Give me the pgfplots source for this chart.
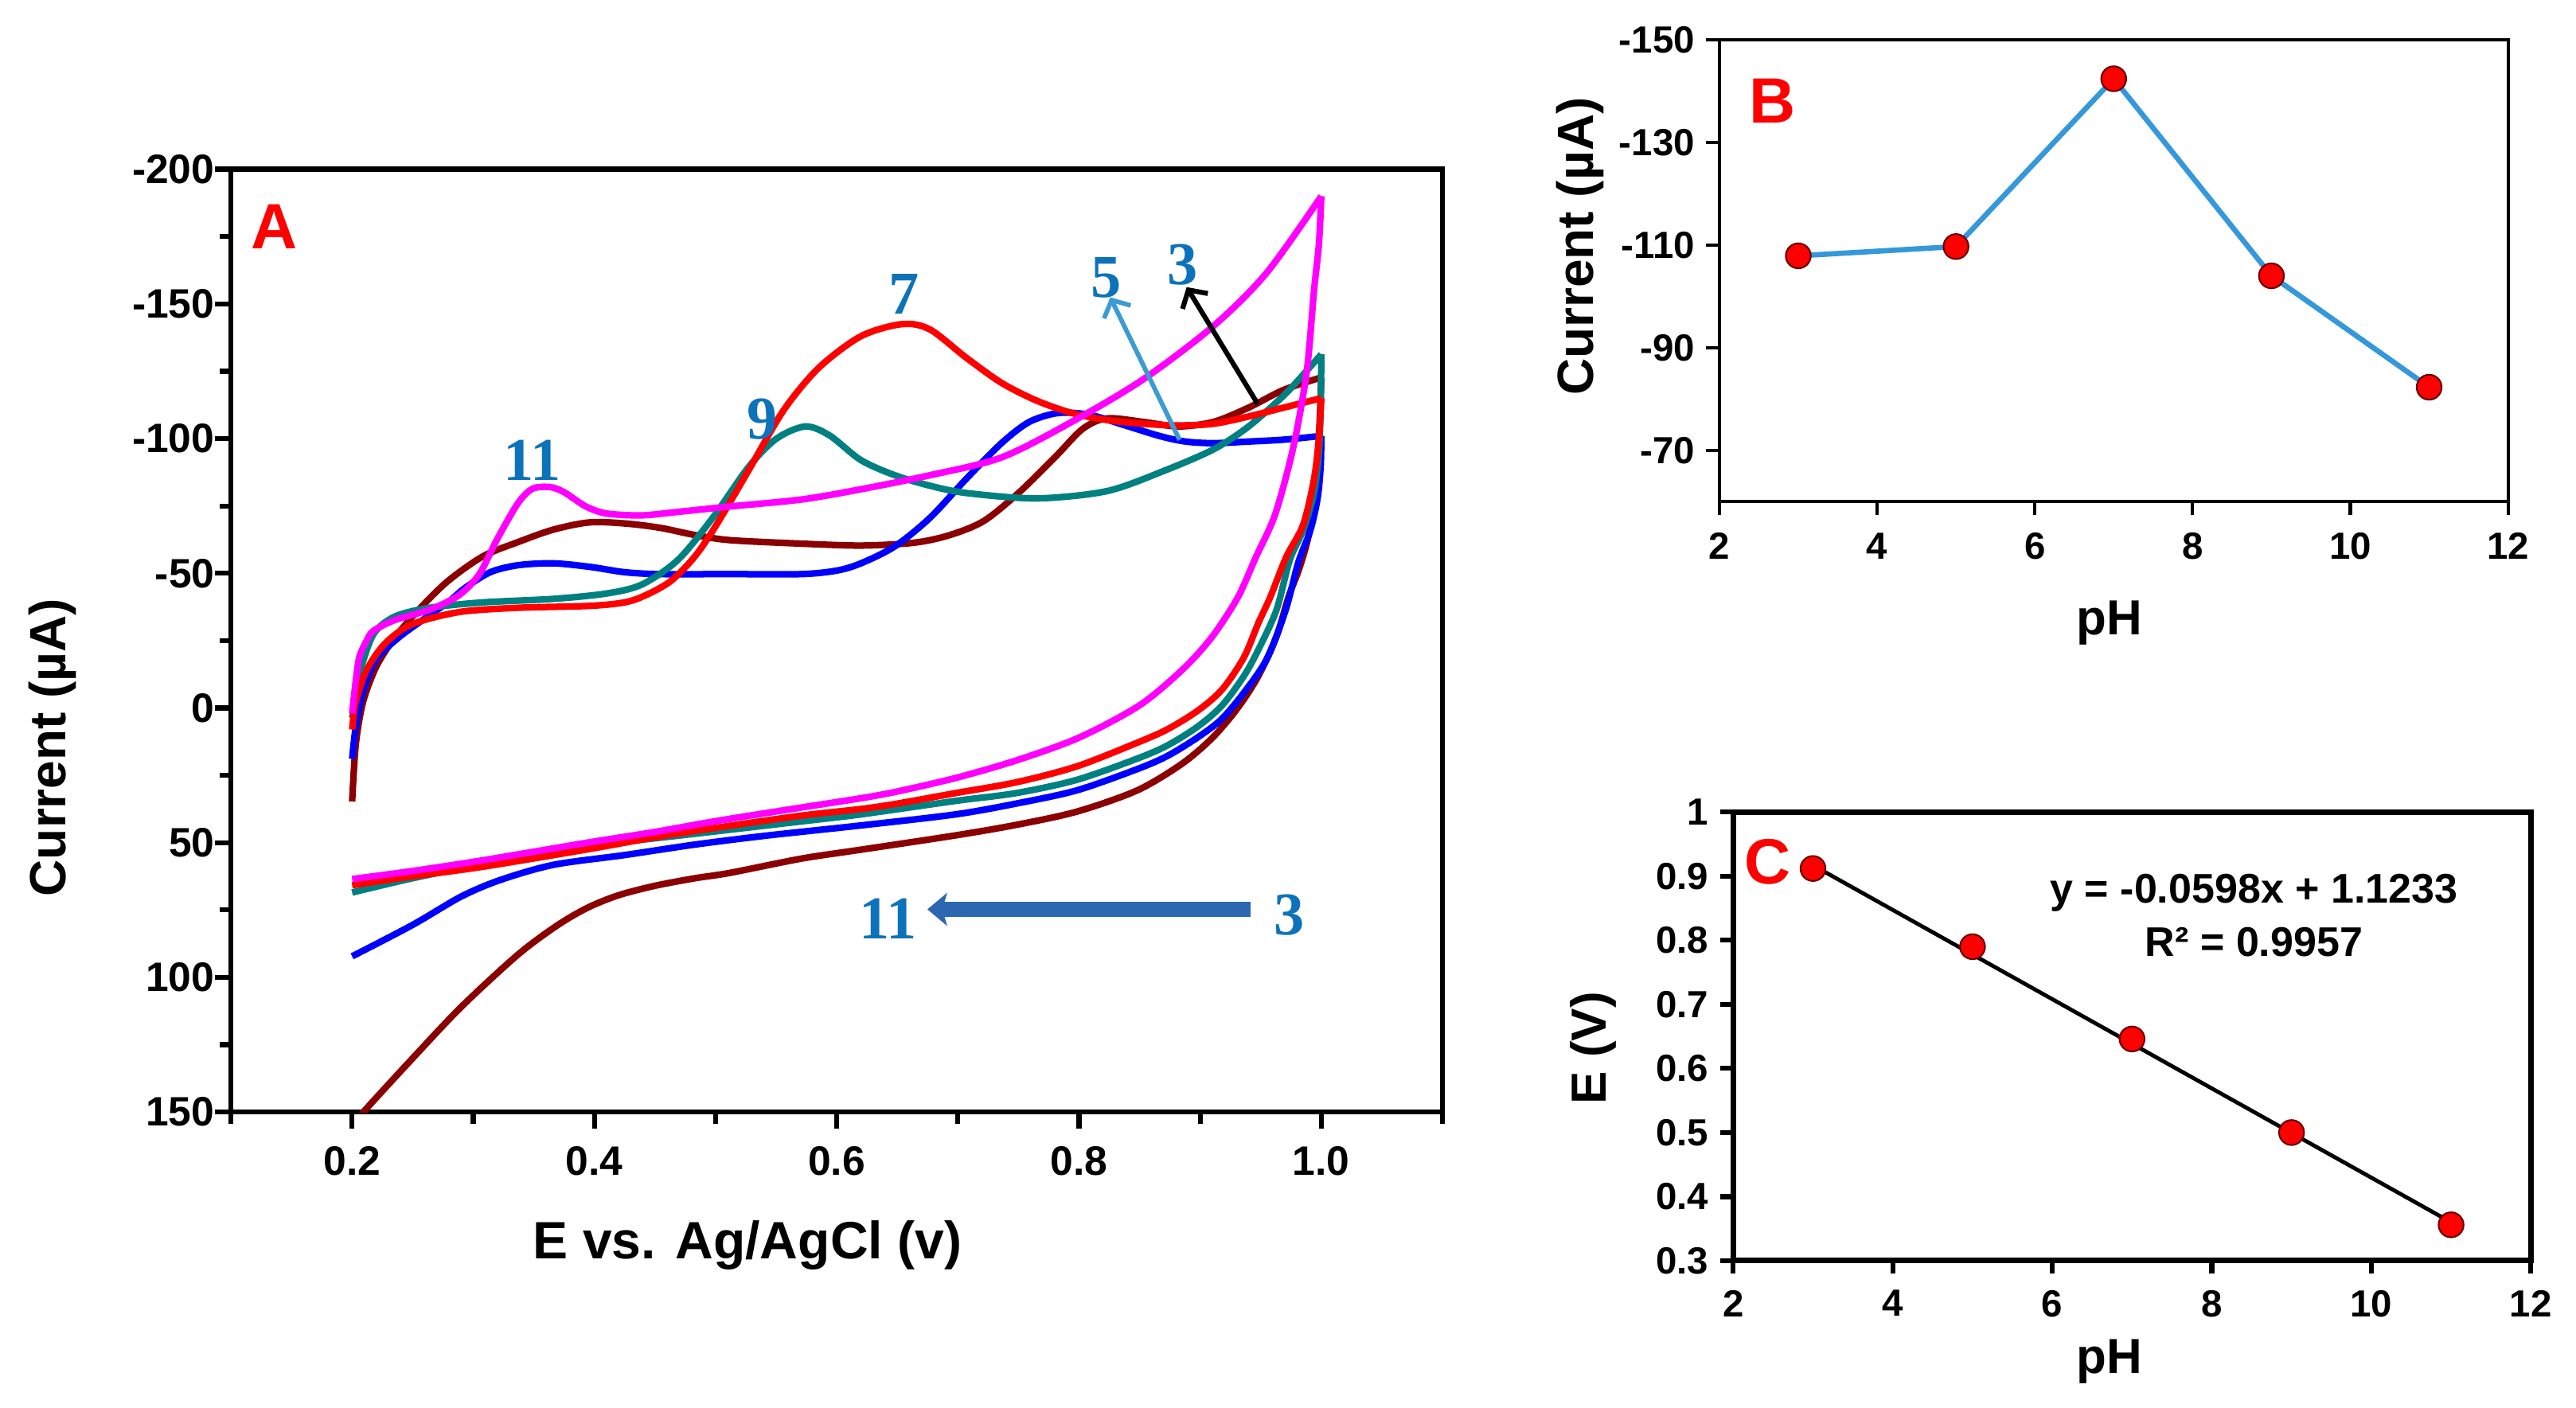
\documentclass[border=0pt]{standalone}
\usepackage{fontspec}
\setmainfont{Liberation Sans}
\newfontfamily\numserif{Liberation Serif}
\usepackage{pgfplots}
\pgfplotsset{compat=1.18}
\usetikzlibrary{arrows.meta}

\definecolor{phthree}{RGB}{139,0,0}
\definecolor{phfive}{RGB}{0,0,255}
\definecolor{phseven}{RGB}{255,0,0}
\definecolor{phnine}{RGB}{0,128,128}
\definecolor{pheleven}{RGB}{255,0,255}
\definecolor{annot}{RGB}{12,114,186}
\definecolor{arrowlight}{RGB}{60,155,210}
\definecolor{arrowbig}{RGB}{44,104,176}
\definecolor{trendblue}{RGB}{52,152,219}

\pgfplotsset{
  panel/.style={
    scale only axis, anchor=south west,
    axis line style={line width=1.5pt},
    tick style={line width=1.5pt, black},
    tick align=outside, xtick pos=left, ytick pos=left,
    clip=true,
  },
  cv/.style={line width=2pt, smooth, tension=0.5, line join=round},
}
\newcommand{\lbl}[1]{\bfseries\fontsize{#1}{#1}\selectfont}

\begin{document}
\begin{tikzpicture}
\useasboundingbox (0,0) rectangle (784pt,428.5pt);

% ---------------- (A) cyclic voltammograms at pH 3-11 ----------------
\begin{axis}[panel,
  at={(70.3pt,90pt)}, width=368.7pt, height=287pt,
  xmin=0.1, xmax=1.1, ymin=-200, ymax=150, y dir=reverse,
  xtick={0.2,0.4,0.6,0.8,1.0}, xticklabels={0.2,0.4,0.6,0.8,1.0},
  minor xtick={0.1,0.3,0.5,0.7,0.9,1.1},
  ytick={-200,-150,-100,-50,0,50,100,150},
  yticklabels={-200,-150,-100,-50,0,50,100,150},
  minor ytick={-175,-125,-75,-25,25,75,125},
  major tick length=5pt, minor tick length=3.5pt,
  tick label style={font=\lbl{12.5}},
  yticklabel style={xshift=3.5pt},
  xticklabel style={yshift=-2pt},
]
% pH 3
\addplot[cv, phthree] coordinates {
(0.200,34.7) (0.203,13.6) (0.209,-2.2) (0.220,-15.4) (0.235,-26) (0.255,-36.5)
(0.279,-47.1) (0.308,-56.3) (0.337,-61.6) (0.366,-66.2) (0.396,-68.9) (0.425,-68.5)
(0.454,-66.9) (0.483,-64.2) (0.512,-62.3) (0.571,-61.0) (0.620,-60.3) (0.663,-61.3)
(0.692,-64) (0.721,-69.3) (0.750,-79.8) (0.780,-93) (0.803,-103.6) (0.823,-107.5)
(0.853,-106.2) (0.882,-104.5) (0.911,-106.2) (0.940,-111.5) (0.969,-118.1) (1.000,-122.7)};
\addplot[cv, phthree] coordinates {
(1.000,-122.7) (0.9985,-105) (0.996,-85) (0.990,-65) (0.982,-52) (0.973,-41.3)
(0.963,-26.5) (0.948,-11.8) (0.931,0) (0.9105,10.9) (0.885,20.7) (0.848,30.6)
(0.798,38.5) (0.748,43.4) (0.698,47.3) (0.620,52.6) (0.571,55.9) (0.512,61.2)
(0.483,63.2) (0.450,66) (0.420,69.5) (0.395,74) (0.370,80.5) (0.337,91.5)
(0.290,111) (0.250,130) (0.2124,148.4) (0.205,152.5) (0.200,155.5)};
% pH 5
\addplot[cv, phfive] coordinates {
(0.200,18.9) (0.203,7) (0.209,-6.2) (0.220,-18.1) (0.238,-26) (0.258,-32.6)
(0.279,-39.2) (0.293,-44.5) (0.314,-50.4) (0.337,-53.0) (0.366,-53.7) (0.396,-52.4)
(0.425,-50.4) (0.454,-49.7) (0.512,-49.7) (0.571,-49.7) (0.600,-51.0) (0.620,-53.7)
(0.648,-60) (0.677,-70.6) (0.707,-85.1) (0.736,-98.3) (0.759,-106.2) (0.783,-109.5)
(0.809,-108.8) (0.838,-104.9) (0.867,-100.9) (0.888,-98.9) (0.911,-98.3) (0.940,-98.9)
(0.969,-99.6) (1.000,-101)};
\addplot[cv, phfive] coordinates {
(1.000,-101) (0.9995,-90) (0.997,-78) (0.991,-66) (0.981,-54) (0.9706,-36.4)
(0.9556,-18.7) (0.938,-6.8) (0.918,4) (0.898,10.9) (0.873,17.8) (0.848,22.7)
(0.798,30.6) (0.748,35.5) (0.698,39.5) (0.620,43.6) (0.5416,47.4) (0.483,50.7)
(0.4248,54.6) (0.3664,58.2) (0.3226,63.8) (0.290,70) (0.250,80.5) (0.200,92.2)};
% pH 9
\addplot[cv, phnine] coordinates {
(0.200,3.7) (0.203,-5) (0.206,-12.8) (0.2175,-27.3) (0.235,-33.9) (0.264,-37.2)
(0.308,-39.2) (0.366,-40.5) (0.410,-42.5) (0.439,-45.8) (0.469,-55.0) (0.498,-70.8)
(0.527,-89.3) (0.550,-99.9) (0.574,-104.5) (0.594,-101.2) (0.620,-92) (0.648,-86.4)
(0.677,-82.5) (0.707,-79.8) (0.765,-77.8) (0.823,-80.5) (0.870,-88) (0.911,-96)
(0.940,-104.5) (0.969,-116) (0.987,-124.7) (1.000,-131.3)};
\addplot[cv, phnine] coordinates {
(1.000,-131.3) (0.9995,-112) (0.998,-95) (0.994,-80) (0.985,-66) (0.974,-55)
(0.963,-36.4) (0.948,-21.6) (0.936,-11.8) (0.918,-0.9) (0.898,6.9) (0.873,13.9)
(0.848,18.8) (0.798,26.7) (0.748,31.6) (0.698,34.5) (0.620,39.5) (0.571,42.1)
(0.483,46.7) (0.396,51.3) (0.308,57.9) (0.250,63.2) (0.200,68.5)};
% pH 7
\addplot[cv, phseven] coordinates {
(0.200,8) (0.203,-2.2) (0.212,-14.1) (0.226,-23.4) (0.244,-29.9) (0.264,-33.2)
(0.293,-35.9) (0.337,-37.2) (0.396,-37.9) (0.425,-39.2) (0.442,-41.8) (0.463,-47.1)
(0.483,-56.3) (0.501,-68.2) (0.527,-88.0) (0.556,-110.4) (0.585,-126.2) (0.620,-138)
(0.654,-142.5) (0.677,-140.5) (0.707,-130) (0.736,-120.7) (0.765,-114.1) (0.794,-109.5)
(0.823,-106.9) (0.853,-105.5) (0.882,-104.9) (0.911,-105.5) (0.940,-108.2) (0.969,-111.5)
(1.000,-115)};
\addplot[cv, phseven] coordinates {
(1.000,-115) (0.998,-100) (0.994,-85) (0.985,-68) (0.971,-56) (0.958,-41.3)
(0.948,-31.5) (0.936,-18.7) (0.918,-6.8) (0.898,1) (0.873,7.9) (0.848,12.9)
(0.798,21.7) (0.748,27.6) (0.698,31.6) (0.650,35.5) (0.620,37.5) (0.570,40)
(0.500,44.5) (0.450,48) (0.394,52.5) (0.307,59) (0.250,62.5) (0.200,65.8)};
% pH 11
\addplot[cv, pheleven] coordinates {
(0.200,2) (0.203,-10) (0.206,-19) (0.212,-25) (0.2175,-28.6) (0.235,-32.6)
(0.264,-36.5) (0.288,-41.8) (0.305,-49.7) (0.320,-62.9) (0.337,-76.1) (0.349,-81.4)
(0.3635,-82.0) (0.375,-80.1) (0.393,-74.8) (0.410,-72.2) (0.439,-71.5) (0.469,-72.8)
(0.512,-74.8) (0.571,-77.4) (0.620,-81.2) (0.677,-86.4) (0.736,-93.0) (0.794,-106.2)
(0.853,-122.0) (0.911,-141.8) (0.955,-161.6) (1.000,-190)};
\addplot[cv, pheleven] coordinates {
(1.000,-190) (0.998,-172) (0.994,-155) (0.988,-125) (0.977,-97) (0.962,-72)
(0.946,-56) (0.931,-41) (0.910,-26.5) (0.886,-14.5) (0.850,-1) (0.800,11)
(0.748,19.5) (0.698,26) (0.650,31) (0.620,33.5) (0.570,37) (0.500,42)
(0.450,46) (0.394,50) (0.307,56.6) (0.250,60.5) (0.200,63.5)};
\end{axis}

% ---------------- (B) peak current vs pH ----------------
\begin{axis}[panel,
  at={(523.3pt,275.8pt)}, width=240pt, height=140.6pt,
  xmin=2, xmax=12, ymin=-150, ymax=-60, y dir=reverse,
  xtick={2,4,6,8,10,12}, xticklabels={2,4,6,8,10,12},
  ytick={-150,-130,-110,-90,-70}, yticklabels={-150,-130,-110,-90,-70},
  axis line style={line width=1pt}, tick style={line width=1pt},
  major tick length=4pt,
  tick label style={font=\lbl{11.5}},
  xticklabel style={yshift=-2pt},
]
\addplot[trendblue, line width=1.6pt, mark=*, mark size=3.8pt,
  mark options={fill=red, draw=black!60!red, line width=0.5pt}]
  coordinates {(3,-107.9) (5,-109.7) (7,-142.4) (9,-104.0) (11,-82.3)};
\end{axis}

% ---------------- (C) peak potential vs pH ----------------
\begin{axis}[panel,
  at={(527.5pt,44.75pt)}, width=242.75pt, height=136.55pt,
  xmin=2, xmax=12, ymin=0.3, ymax=1,
  xtick={2,4,6,8,10,12}, xticklabels={2,4,6,8,10,12},
  ytick={0.3,0.4,0.5,0.6,0.7,0.8,0.9,1},
  yticklabels={0.3,0.4,0.5,0.6,0.7,0.8,0.9,1},
  axis line style={line width=1.7pt}, tick style={line width=1.5pt},
  major tick length=4pt,
  tick label style={font=\lbl{11.5}},
  xticklabel style={yshift=-1.5pt},
]
\addplot[only marks, mark=*, mark size=3.8pt,
  mark options={fill=red, draw=black!60!red, line width=0.5pt}]
  coordinates {(3,0.912) (5,0.790) (7,0.646) (9,0.500) (11,0.356)};
\addplot[black, line width=1.2pt] coordinates {(3,0.917) (11,0.360)};
\end{axis}

% axis titles
\node[rotate=90, font=\lbl{15.5}] at (16pt,201pt) {Current (µA)};
\node[font=\lbl{16}] at (227.5pt,49.5pt) {E vs. Ag/AgCl (v)};
\node[rotate=90, font=\lbl{15.5}] at (481pt,353.5pt) {Current (µA)};
\node[font=\lbl{15}] at (642pt,239pt) {pH};
\node[rotate=90, font=\lbl{15}] at (485pt,109.5pt) {E (V)};
\node[font=\lbl{15}] at (642pt,14pt) {pH};

% panel letters
\node[red, font=\lbl{19.5}] at (83.5pt,359.5pt) {A};
\node[red, font=\lbl{19.5}] at (539.5pt,397.75pt) {B};
\node[red, font=\lbl{19.5}] at (538pt,166.25pt) {C};

% fit equation
\node[font=\lbl{12.6}] at (686pt,156.75pt) {y = -0.0598x + 1.1233};
\node[font=\lbl{12.6}] at (686pt,141.75pt) {R² = 0.9957};

% pH annotations on the voltammograms
\begin{scope}[annot, font=\numserif\bfseries\fontsize{18.5}{18.5}\selectfont, inner sep=0pt]
\node at (162pt,288.5pt) {11};
\node at (232pt,301pt) {9};
\node at (275pt,339pt) {7};
\node at (336.75pt,344pt) {5};
\node at (360pt,348pt) {3};
\node at (270.3pt,148.75pt) {11};
\node at (392.5pt,150pt) {3};
\end{scope}
\draw[arrowlight, line width=1.4pt, -{Straight Barb[length=4pt,width=9pt]}]
  (359pt,294.6pt) -- (337.9pt,338pt);
\draw[black, line width=1.5pt, -{Straight Barb[length=4pt,width=9pt]}]
  (382.8pt,305.5pt) -- (361.15pt,341.1pt);
\draw[arrowbig, line width=4.6pt, -{Stealth[length=6pt,width=10pt,inset=1.5pt]}]
  (380.6pt,151.7pt) -- (282.25pt,151.7pt);
\end{tikzpicture}
\end{document}
